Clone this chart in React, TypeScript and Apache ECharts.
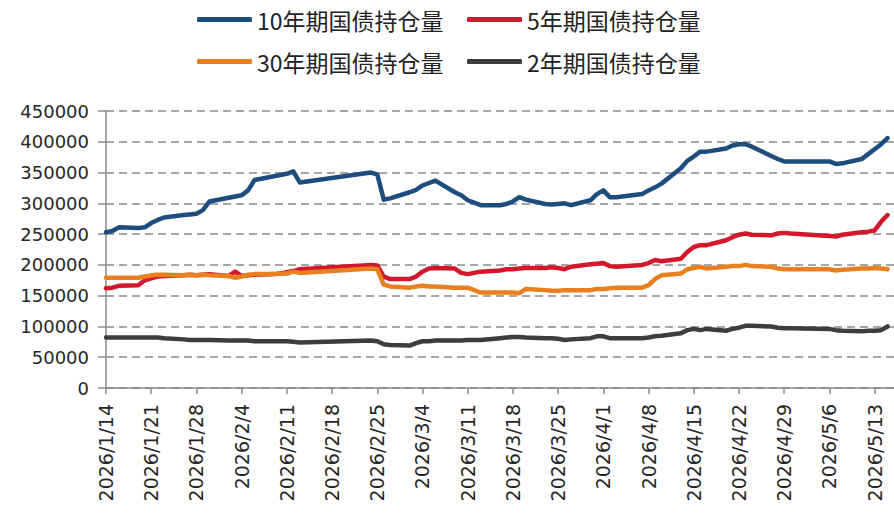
import React, { useEffect, useRef } from "react";
import * as echarts from "echarts";

const seriesNames = ["10年期国债持仓量", "5年期国债持仓量", "30年期国债持仓量", "2年期国债持仓量"];

const dates = [
  "2026/1/14", "2026/1/15", "2026/1/16",
  "2026/1/19", "2026/1/20", "2026/1/21", "2026/1/22", "2026/1/23",
  "2026/1/26", "2026/1/27", "2026/1/28", "2026/1/29", "2026/1/30",
  "2026/2/2", "2026/2/3", "2026/2/4", "2026/2/5", "2026/2/6",
  "2026/2/9", "2026/2/10", "2026/2/11", "2026/2/12", "2026/2/13",
  "2026/2/24", "2026/2/25", "2026/2/26", "2026/2/27",
  "2026/3/2", "2026/3/3", "2026/3/4", "2026/3/5", "2026/3/6",
  "2026/3/9", "2026/3/10", "2026/3/11", "2026/3/12", "2026/3/13",
  "2026/3/16", "2026/3/17", "2026/3/18", "2026/3/19", "2026/3/20",
  "2026/3/23", "2026/3/24", "2026/3/25", "2026/3/26", "2026/3/27",
  "2026/3/30", "2026/3/31", "2026/4/1", "2026/4/2", "2026/4/3",
  "2026/4/7", "2026/4/8", "2026/4/9", "2026/4/10",
  "2026/4/13", "2026/4/14", "2026/4/15", "2026/4/16", "2026/4/17",
  "2026/4/20", "2026/4/21", "2026/4/22", "2026/4/23", "2026/4/24",
  "2026/4/27", "2026/4/28", "2026/4/29", "2026/4/30",
  "2026/5/6", "2026/5/7", "2026/5/8",
  "2026/5/11", "2026/5/12", "2026/5/13", "2026/5/14", "2026/5/15",
];

const t10 = [
  253000, 255000, 261000,
  260000, 261000, 268000, 273000, 277000,
  281000, 282000, 283000, 289000, 303000,
  309000, 311000, 313000, 321000, 338000,
  344000, 346000, 348000, 352000, 334000,
  350000, 347000, 306000, 308000,
  318000, 322000, 329000, 333000, 337000,
  318000, 313000, 305000, 301000, 297000,
  297000, 299000, 303000, 310000, 306000,
  299000, 298000, 299000, 300000, 297000,
  305000, 315000, 321000, 310000, 310000,
  315000, 321000, 326000, 332000,
  357000, 369000, 376000, 384000, 384000,
  389000, 394000, 396000, 396000, 392000,
  377000, 372000, 368000, 368000,
  368000, 364000, 365000,
  372000, 380000, 388000, 396000, 406000,
];

const t5 = [
  162000, 163000, 166000,
  167000, 175000, 178000, 181000, 182000,
  183000, 184000, 183000, 184000, 185000,
  182000, 189000, 182000, 183000, 184000,
  185000, 186000, 188000, 190000, 193000,
  200000, 199000, 181000, 177000,
  177000, 181000, 189000, 194000, 195000,
  194000, 187000, 185000, 187000, 189000,
  191000, 193000, 193000, 194000, 195000,
  195000, 196000, 195000, 193000, 197000,
  201000, 202000, 203000, 198000, 197000,
  200000, 203000, 208000, 206000,
  210000, 221000, 229000, 232000, 232000,
  240000, 245000, 249000, 251000, 249000,
  248000, 251000, 252000, 251000,
  247000, 246000, 249000,
  253000, 254000, 256000, 270000, 281000,
];

const t30 = [
  179000, 179000, 179000,
  179000, 181000, 183000, 184000, 184000,
  183000, 184000, 183000, 184000, 183000,
  182000, 179000, 181000, 184000, 185000,
  185000, 186000, 186000, 189000, 187000,
  194000, 193000, 168000, 165000,
  163000, 165000, 166000, 165000, 165000,
  163000, 163000, 163000, 159000, 155000,
  155000, 155000, 155000, 154000, 161000,
  159000, 158000, 158000, 159000, 159000,
  159000, 161000, 161000, 162000, 163000,
  163000, 167000, 177000, 183000,
  186000, 193000, 195000, 197000, 194000,
  197000, 198000, 198000, 200000, 198000,
  197000, 194000, 193000, 193000,
  193000, 191000, 192000,
  194000, 194000, 195000, 194000, 193000,
];

const t2 = [
  82000, 82000, 82000,
  82000, 82000, 82000, 82000, 81000,
  79000, 78000, 78000, 78000, 78000,
  77000, 77000, 77000, 77000, 76000,
  76000, 76000, 76000, 75000, 74000,
  77000, 76000, 71000, 70000,
  69000, 73000, 76000, 76000, 77000,
  77000, 77000, 78000, 78000, 78000,
  81000, 82000, 83000, 83000, 82000,
  81000, 81000, 80000, 78000, 79000,
  81000, 84000, 84000, 81000, 81000,
  81000, 82000, 84000, 85000,
  89000, 94000, 96000, 94000, 96000,
  93000, 96000, 98000, 101000, 101000,
  100000, 98000, 97000, 97000,
  96000, 94000, 93000,
  92000, 93000, 93000, 94000, 100000,
];

const yTicks = { min: 0, max: 450000, interval: 50000 };
const startDate = "2026/1/14";
const endDate = "2026/5/16";

const colors = ["#1d4d7c", "#d3182b", "#e8801f", "#3d3d3d"];

const DAY = 86400000;
function toUTC(s: string) {
  const [y, m, d] = s.split("/").map(Number);
  return Date.UTC(y, m - 1, d);
}
const base = toUTC(startDate);
const dayIndex = (s: string) => Math.round((toUTC(s) - base) / DAY);
const fmtDay = (v: number) => {
  const dt = new Date(base + v * DAY);
  return `${dt.getUTCFullYear()}/${dt.getUTCMonth() + 1}/${dt.getUTCDate()}`;
};

const valueSets = [t10, t5, t30, t2];

export default function App() {
  const ref = useRef<HTMLDivElement>(null);
  useEffect(() => {
    if (!ref.current) return;
    const chart = echarts.init(ref.current, undefined, { renderer: "svg" });
    const textFont = "'DejaVu Sans', 'Noto Sans CJK SC', sans-serif";
    const legendFont = "'Noto Sans CJK SC', 'DejaVu Sans', sans-serif";
    const legendPos = [
      { left: 197, top: 8 },
      { left: 467, top: 8 },
      { left: 197, top: 50 },
      { left: 467, top: 50 },
    ];
    chart.setOption({
      animation: false,
      backgroundColor: "#ffffff",
      legend: seriesNames.map((n, i) => ({
        data: [n],
        left: legendPos[i].left,
        top: legendPos[i].top,
        padding: 0,
        icon: "roundRect",
        itemWidth: 55,
        itemHeight: 5,
        selectedMode: false,
        textStyle: { fontSize: 23, color: "#222", fontFamily: legendFont },
      })),
      grid: { left: 106, right: 0, top: 111, bottom: 127 },
      xAxis: {
        type: "value",
        min: 0,
        max: dayIndex(endDate),
        interval: 7,
        axisLine: { show: true, lineStyle: { color: "#8a8a8a", width: 1.5 } },
        axisTick: { show: true, length: 6, lineStyle: { color: "#8a8a8a", width: 1.5 } },
        splitLine: { show: false },
        axisLabel: {
          rotate: 90,
          margin: 16,
          fontSize: 19,
          color: "#262626",
          fontFamily: textFont,
          showMaxLabel: false,
          padding: [10, 0, 0, 0],
          formatter: (v: number) => (v % 7 === 0 ? fmtDay(v) : ""),
        },
      },
      yAxis: {
        type: "value",
        min: yTicks.min,
        max: yTicks.max,
        interval: yTicks.interval,
        axisLine: { show: true, lineStyle: { color: "#8a8a8a", width: 1.5 } },
        axisTick: { show: true, length: 8, lineStyle: { color: "#8a8a8a", width: 1.5 } },
        splitLine: { show: true, lineStyle: { color: "#8a8a8a", width: 1.5, type: [8, 5] } },
        axisLabel: {
          fontSize: 18,
          color: "#262626",
          fontFamily: textFont,
          margin: 17,
          formatter: (v: number) => String(v),
        },
      },
      series: seriesNames.map((n, i) => ({
        name: n,
        type: "line",
        showSymbol: false,
        symbol: "none",
        color: colors[i],
        lineStyle: { width: 4.5, color: colors[i], cap: "round", join: "round" },
        data: dates.map((d, k) => [dayIndex(d), valueSets[i][k]]),
      })),
    });
    return () => chart.dispose();
  }, []);
  return (
    <div
      ref={ref}
      style={{ position: "fixed", left: 0, top: 0, width: 894, height: 515, background: "#fff" }}
    />
  );
}
